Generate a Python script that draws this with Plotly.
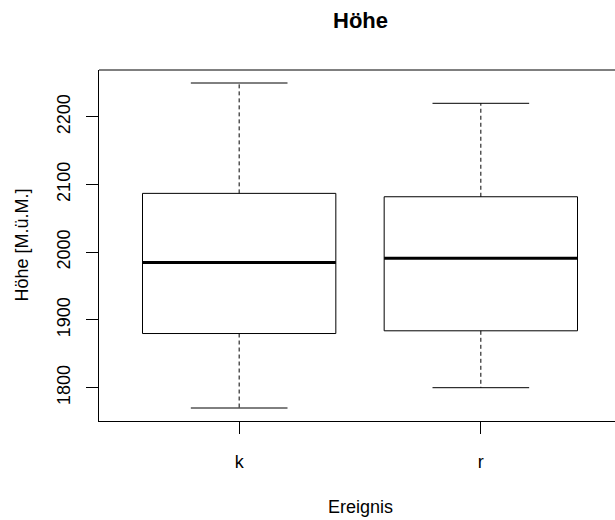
import plotly.graph_objects as go

categories = ["k", "r"]
lower_whisker = [1770, 1800]
q1 = [1880, 1884]
median = [1985, 1991]
q3 = [2087, 2082]
upper_whisker = [2250, 2220]

title = "Höhe"
x_title = "Ereignis"
y_title = "Höhe [M.ü.M.]"
y_ticks = [1800, 1900, 2000, 2100, 2200]

FONT = "Liberation Sans, Arial, sans-serif"
BOXW = 0.4   # half width of box
CAPW = 0.2   # half width of whisker caps

fig = go.Figure()
for i, cat in enumerate(categories):
    x = i + 1
    # box
    fig.add_trace(go.Scatter(
        x=[x - BOXW, x + BOXW, x + BOXW, x - BOXW, x - BOXW],
        y=[q1[i], q1[i], q3[i], q3[i], q1[i]],
        mode="lines", line=dict(color="black", width=1), showlegend=False, hoverinfo="skip"))
    # median
    fig.add_trace(go.Scatter(
        x=[x - BOXW, x + BOXW], y=[median[i], median[i]],
        mode="lines", line=dict(color="black", width=3), showlegend=False, hoverinfo="skip"))
    # whiskers (dashed)
    fig.add_trace(go.Scatter(
        x=[x, x, None, x, x], y=[q3[i], upper_whisker[i], None, q1[i], lower_whisker[i]],
        mode="lines", line=dict(color="black", width=1, dash="4px,3px"), showlegend=False, hoverinfo="skip"))
    # caps
    fig.add_trace(go.Scatter(
        x=[x - CAPW, x + CAPW, None, x - CAPW, x + CAPW],
        y=[upper_whisker[i], upper_whisker[i], None, lower_whisker[i], lower_whisker[i]],
        mode="lines", line=dict(color="black", width=1), showlegend=False, hoverinfo="skip"))

W, H = 615, 520
L, T, B = 99, 70, 99
ymin, ymax = min(lower_whisker), max(upper_whisker)
ypad = (ymax - ymin) * 0.04
full_lo, full_hi = 0.42, 2.58
full_px = 522
xr_hi = full_lo + (full_hi - full_lo) * (W - L) / full_px

fig.update_layout(
    width=W, height=H,
    margin=dict(l=L, r=0, t=T, b=B),
    plot_bgcolor="white", paper_bgcolor="white",
    font=dict(family=FONT, size=18, color="black"),
    xaxis=dict(range=[full_lo, xr_hi], tickvals=[1, 2], ticktext=categories,
               showline=True, linecolor="black", linewidth=1, ticks="outside",
               ticklen=12, tickcolor="black", showgrid=False, zeroline=False,
               ticklabelstandoff=12, fixedrange=True),
    yaxis=dict(range=[ymin - ypad, ymax + ypad], tickvals=y_ticks,
               showline=True, linecolor="black", linewidth=1, ticks="outside",
               ticklen=12, tickcolor="black", showgrid=False, zeroline=False,
               tickangle=-90, ticklabelstandoff=9, fixedrange=True),
    shapes=[dict(type="line", xref="paper", yref="paper", x0=0, x1=1, y0=1, y1=1,
                 line=dict(color="black", width=1))],
    annotations=[
        dict(text="<b>" + title + "</b>", xref="paper", yref="paper",
             x=(360 - L) / (W - L), y=1, yshift=50, showarrow=False,
             font=dict(size=22, family=FONT), xanchor="center", yanchor="middle"),
        dict(text=x_title, xref="paper", yref="paper",
             x=(360 - L) / (W - L), y=0, yshift=-86, showarrow=False,
             font=dict(size=18, family=FONT), xanchor="center", yanchor="middle"),
        dict(text=y_title, xref="paper", yref="paper",
             x=0, xshift=-78, y=0.5, showarrow=False, textangle=-90,
             font=dict(size=18, family=FONT), xanchor="center", yanchor="middle"),
    ],
)

fig.write_html("out.html")
